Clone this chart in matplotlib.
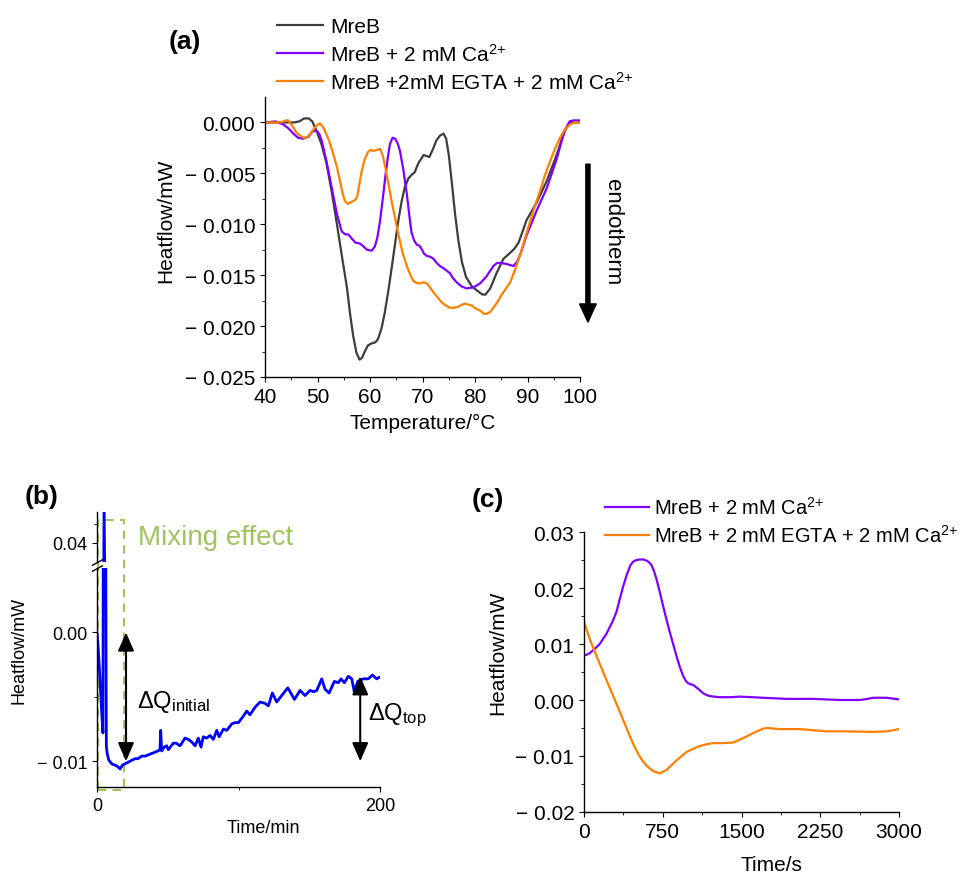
import matplotlib
matplotlib.use("Agg")
import matplotlib.pyplot as plt
from matplotlib.patches import Rectangle
from matplotlib.ticker import FixedLocator, FuncFormatter

# ---- panel (a): DSC scans, heatflow vs temperature ----
MREB_T = [40, 43, 45.5, 46.5, 47.5, 48.3, 49, 49.8, 50.8, 51.7, 52.7, 53.7, 54.6, 55.6, 56.2,
          56.8, 57.4, 58.0, 58.5, 59.0, 59.6, 60.3, 61.0, 61.5, 62.2, 62.8, 63.5, 64.2, 64.8,
          65.4, 66.0, 66.6, 67.3, 68.0, 68.5, 69.2, 70.2, 70.8, 71.3, 72.0, 72.6, 73.3, 74.0,
          74.5, 75.0, 75.6, 76.2, 76.8, 77.5, 78.3, 79.4, 80.6, 81.4, 82.0, 82.9, 84.1, 85.4,
          86.7, 87.5, 88.3, 89.2, 89.8, 91.7, 93.7, 95.6, 96.5, 97.1, 97.8, 98.4, 100]
MREB_HF = [0.0, 0.0, 0.0, 0.0001, 0.0004, 0.0004, 0.0001, -0.0008, -0.0022, -0.0040, -0.0068,
           -0.0100, -0.0130, -0.0162, -0.0188, -0.0210, -0.0226, -0.0233, -0.0231, -0.0225,
           -0.0219, -0.0217, -0.0216, -0.0213, -0.0202, -0.0187, -0.0165, -0.0140, -0.0118,
           -0.0096, -0.0078, -0.0064, -0.0055, -0.0051, -0.0049, -0.0040, -0.0032, -0.0033,
           -0.0034, -0.0026, -0.0018, -0.0013, -0.0011, -0.0016, -0.0032, -0.0060, -0.0090,
           -0.0115, -0.0137, -0.0152, -0.0161, -0.0166, -0.0169, -0.0169, -0.0163, -0.0148,
           -0.0134, -0.0128, -0.0124, -0.0118, -0.0105, -0.0096, -0.0079, -0.0057, -0.0031,
           -0.0017, -0.0008, -0.0002, 0.0, 0.0]

CA_T = [40, 42, 43.5, 44.5, 45.4, 46.3, 47.2, 48.3, 49.0, 49.8, 50.3, 50.8, 51.7, 52.7, 53.7,
        54.6, 55.3, 55.9, 56.5, 57.2, 58.1, 58.8, 59.4, 60.3, 60.9, 61.4, 61.9, 62.4, 62.9,
        63.4, 63.8, 64.3, 64.8, 65.3, 65.7, 66.3, 67.0, 67.5, 67.9, 68.4, 68.9, 69.4, 69.8,
        70.3, 70.8, 71.5, 72.1, 72.7, 73.3, 74.2, 75.2, 75.8, 76.5, 77.4, 78.4, 79.7, 81.0,
        82.2, 83.5, 84.2, 84.8, 86.0, 87.3, 88.0, 88.6, 89.8, 91.7, 93.7, 95.6, 96.5, 97.1,
        98.0, 98.7, 100]
CA_HF = [0.0, 0.0001, -0.0002, -0.0006, -0.0011, -0.0015, -0.0016, -0.0014, -0.0009, -0.0008,
         -0.0011, -0.0018, -0.0038, -0.0064, -0.0090, -0.0107, -0.0110, -0.0110, -0.0114,
         -0.0118, -0.0119, -0.0122, -0.0125, -0.0126, -0.0122, -0.0113, -0.0097, -0.0076,
         -0.0054, -0.0034, -0.0021, -0.0015, -0.0016, -0.0021, -0.0028, -0.0045, -0.0070,
         -0.0092, -0.0108, -0.0116, -0.0120, -0.0121, -0.0124, -0.0129, -0.0131, -0.0132,
         -0.0134, -0.0138, -0.0141, -0.0144, -0.0148, -0.0153, -0.0157, -0.0161, -0.0163,
         -0.0162, -0.0158, -0.0151, -0.0141, -0.0138, -0.0138, -0.0139, -0.0141, -0.0137,
         -0.0130, -0.0111, -0.0087, -0.0064, -0.0035, -0.0018, -0.0008, 0.0001, 0.0002, 0.0002]

EGTA_T = [40, 42.9, 44.0, 44.4, 45.0, 45.4, 46.0, 46.7, 47.3, 47.9, 48.5, 49.2, 49.8, 50.4,
          51.0, 51.4, 52.2, 53.0, 53.7, 54.3, 54.8, 55.2, 55.7, 56.5, 57.2, 57.6, 58.0, 58.4,
          59.0, 59.6, 60.1, 60.6, 61.3, 61.9, 62.4, 62.9, 63.5, 64.1, 64.8, 65.4, 66.2, 67.0,
          67.7, 68.3, 69.0, 69.5, 70.2, 70.8, 71.4, 72.1, 72.9, 73.7, 74.5, 75.2, 76.0, 76.8,
          77.5, 78.1, 78.8, 79.4, 80.2, 81.0, 81.7, 82.2, 82.9, 83.5, 84.3, 85.1, 85.9, 86.7,
          87.6, 88.6, 89.5, 90.5, 91.4, 92.4, 93.3, 94.3, 95.2, 96.2, 97.1, 98.1, 99.0, 100]
EGTA_HF = [0.0, 0.0, 0.0002, 0.0002, -0.0002, -0.0005, -0.0010, -0.0013, -0.0015, -0.0015,
           -0.0012, -0.0007, -0.0003, -0.0001, -0.0004, -0.0008, -0.0018, -0.0031, -0.0044,
           -0.0058, -0.0070, -0.0077, -0.0080, -0.0078, -0.0076, -0.0072, -0.0060, -0.0048,
           -0.0036, -0.0029, -0.0027, -0.0028, -0.0027, -0.0026, -0.0032, -0.0044, -0.0060,
           -0.0077, -0.0095, -0.0110, -0.0128, -0.0141, -0.0150, -0.0156, -0.0158, -0.0158,
           -0.0157, -0.0158, -0.0162, -0.0167, -0.0172, -0.0177, -0.0180, -0.0182, -0.0182,
           -0.0181, -0.0179, -0.0178, -0.0179, -0.0180, -0.0183, -0.0185, -0.0188, -0.0188,
           -0.0186, -0.0182, -0.0176, -0.0169, -0.0163, -0.0157, -0.0145, -0.0130, -0.0114,
           -0.0097, -0.0082, -0.0067, -0.0052, -0.0038, -0.0026, -0.0015, -0.0007, -0.0002,
           0.0, 0.0]

LABELS_A = ["MreB", "MreB + 2 mM Ca$^{2{+}}$", "MreB +2mM EGTA + 2 mM Ca$^{2{+}}$"]

# ---- panel (b): isothermal heatflow after Ca2+ addition ----
ITC_MIN = [0.0, 0.9, 2.1, 3.3, 4.2, 5.0, 6.6, 7.2, 8.3, 10.4, 12.7, 14.5, 16.3, 18.0, 19.8,
           21.5, 23.3, 25.0, 26.9, 29.0, 31.6, 34.0, 36.3, 38.5, 41.0, 43.0, 44.5, 45.0, 45.7,
           47.5, 49.2, 50.4, 53.9, 56.0, 58.7, 62.2, 64.5, 66.9, 69.3, 71.6, 73.5, 75.1, 77.5,
           79.9, 82.2, 84.6, 86.3, 89.3, 91.7, 95.2, 97.6, 99.9, 103.4, 105.8, 108.1, 111.7,
           115.2, 118.7, 121.1, 123.9, 127.0, 130.5, 134.8, 136.4, 139.5, 143.5, 147.0, 150.5,
           153.0, 155.3, 158.8, 161.1, 164.0, 167.7, 170.5, 172.4, 174.8, 177.6, 180.0, 181.8,
           184.2, 188.2, 191.7, 194.6, 197.6, 199.3]
ITC_HF = [0.0, -0.0013, -0.0036, -0.0062, -0.0078, 0.050, -0.0088, -0.0094, -0.0099, -0.0102,
          -0.0103, -0.0104, -0.0106, -0.0103, -0.0102, -0.0101, -0.0100, -0.0099, -0.0098,
          -0.0098, -0.0096, -0.0096, -0.0095, -0.0094, -0.0093, -0.0092, -0.0091, -0.0076,
          -0.0092, -0.0089, -0.0088, -0.0091, -0.0086, -0.0086, -0.0088, -0.0082, -0.0083,
          -0.0085, -0.0088, -0.0082, -0.0089, -0.0081, -0.0082, -0.0080, -0.0083, -0.0076,
          -0.0081, -0.0075, -0.0076, -0.0071, -0.0070, -0.0070, -0.0065, -0.0061, -0.0064,
          -0.0058, -0.0054, -0.0055, -0.0057, -0.0047, -0.0054, -0.0049, -0.0043, -0.0046,
          -0.0052, -0.0045, -0.0049, -0.0045, -0.0046, -0.0045, -0.0036, -0.0044, -0.0047,
          -0.0038, -0.0039, -0.0036, -0.0039, -0.0034, -0.0036, -0.0046, -0.0038, -0.0036,
          -0.0036, -0.0033, -0.0036, -0.0035]

# ---- panel (c): heatflow vs time ----
CA_S = [0, 50, 100, 149, 213, 276, 310, 340, 370, 404, 440, 467, 500, 531, 565, 594, 620, 642,
        665, 690, 720, 753, 785, 817, 850, 880, 912, 944, 970, 992, 1015, 1039, 1060, 1087,
        1110, 1135, 1165, 1198, 1240, 1293, 1400, 1484, 1600, 1707, 1929, 2183, 2437, 2628,
        2700, 2755, 2883, 3000]
CA_S_HF = [0.0079, 0.0083, 0.0091, 0.0100, 0.0118, 0.0142, 0.0158, 0.0180, 0.0201, 0.0222,
           0.0240, 0.0247, 0.0250, 0.0251, 0.0251, 0.0249, 0.0246, 0.0241, 0.0231, 0.0216,
           0.0194, 0.0168, 0.0144, 0.0121, 0.0099, 0.0079, 0.0059, 0.0043, 0.0034, 0.0030,
           0.0028, 0.0027, 0.0024, 0.0020, 0.0016, 0.0012, 0.0009, 0.0007, 0.0006, 0.0005,
           0.0005, 0.0006, 0.0005, 0.0004, 0.0002, 0.0002, 0.0000, 0.0000, 0.0002, 0.0004,
           0.0004, 0.0001]
EGTA_S = [0, 54, 118, 197, 276, 356, 435, 475, 515, 555, 594, 658, 721, 785, 830, 880, 930,
          976, 1040, 1103, 1170, 1230, 1325, 1420, 1470, 1516, 1560, 1611, 1660, 1707, 1750,
          1802, 1866, 2056, 2310, 2501, 2755, 2883, 3000]
EGTA_S_HF = [0.0140, 0.0109, 0.0079, 0.0043, 0.0008, -0.0028, -0.0064, -0.0081, -0.0096,
             -0.0108, -0.0117, -0.0127, -0.0131, -0.0125, -0.0117, -0.0108, -0.0100, -0.0093,
             -0.0087, -0.0082, -0.0079, -0.0077, -0.0077, -0.0076, -0.0072, -0.0068, -0.0064,
             -0.0059, -0.0055, -0.0051, -0.0050, -0.0051, -0.0052, -0.0052, -0.0056, -0.0056,
             -0.0057, -0.0056, -0.0052]

LABELS_C = ["MreB + 2 mM Ca$^{2{+}}$", "MreB + 2 mM EGTA + 2 mM Ca$^{2{+}}$"]

GREY = "#3d3d3d"
PURPLE = "#8000ff"
ORANGE = "#ff8000"
BLUE = "#0000ff"
GREEN = "#9fc45e"


def set_style():
    plt.rcParams.update({
        "font.family": "Liberation Sans",
        "mathtext.fontset": "custom",
        "mathtext.rm": "Liberation Sans",
        "mathtext.it": "Liberation Sans:italic",
        "mathtext.bf": "Liberation Sans:bold",
        "mathtext.default": "regular",
        "axes.linewidth": 1.0,
        "xtick.direction": "out",
        "ytick.direction": "out",
        "xtick.major.size": 3.5,
        "ytick.major.size": 3.5,
        "xtick.minor.size": 2.0,
        "ytick.minor.size": 2.0,
    })


def dash_fmt(decimals):
    def f(v, _pos):
        if abs(v) < 1e-12:
            return f"{0:.{decimals}f}"
        s = f"{abs(v):.{decimals}f}"
        return s if v > 0 else "\u2212 " + s
    return FuncFormatter(f)


def clean(ax):
    ax.spines["top"].set_visible(False)
    ax.spines["right"].set_visible(False)


set_style()
fig = plt.figure(figsize=(9.69, 8.79), dpi=100)

# ---------------- (a) ----------------
ax_a = fig.add_axes([0.2735, 0.5700, 0.3251, 0.3185])
clean(ax_a)
ax_a.plot(MREB_T, MREB_HF, color=GREY, lw=1.6, label=LABELS_A[0])
ax_a.plot(CA_T, CA_HF, color=PURPLE, lw=1.6, label=LABELS_A[1])
ax_a.plot(EGTA_T, EGTA_HF, color=ORANGE, lw=1.6, label=LABELS_A[2])
ax_a.set_xlim(40, 100)
ax_a.set_ylim(-0.025, 0.0025)
ax_a.xaxis.set_major_locator(FixedLocator([40, 50, 60, 70, 80, 90, 100]))
ax_a.xaxis.set_minor_locator(FixedLocator([45, 55, 65, 75, 85, 95]))
ax_a.yaxis.set_major_locator(FixedLocator([-0.025, -0.02, -0.015, -0.01, -0.005, 0.0]))
ax_a.yaxis.set_minor_locator(FixedLocator([-0.0225, -0.0175, -0.0125, -0.0075, -0.0025]))
ax_a.yaxis.set_major_formatter(dash_fmt(3))
ax_a.tick_params(labelsize=15)
ax_a.set_xlabel("Temperature/°C", fontsize=15)
ax_a.set_ylabel("Heatflow/mW", fontsize=15)
ax_a.xaxis.set_label_coords(0.502, -0.13)
ax_a.yaxis.set_label_coords(-0.285, 0.56)
ax_a.legend(loc="upper left", bbox_to_anchor=(0.2859, 0.979), bbox_transform=fig.transFigure,
            frameon=False, fontsize=15, handlelength=2.2, handletextpad=0.35,
            borderpad=0, borderaxespad=0, labelspacing=0.3)
ax_a.annotate("", xy=(101.5, -0.0196), xytext=(101.5, -0.0041), annotation_clip=False,
              arrowprops=dict(width=3, headwidth=12, headlength=13, shrink=0, color="black"))
ax_a.text(106.2, -0.0107, "endotherm", rotation=-90, fontsize=16, ha="center", va="center",
          clip_on=False)
fig.text(0.191, 0.952, "(a)", fontsize=19, fontweight="bold", ha="center", va="center")

# ---------------- (b) ----------------
ax_b = fig.add_axes([0.1001, 0.1035, 0.2921, 0.2491])
ax_bt = fig.add_axes([0.1001, 0.3595, 0.2921, 0.0569], sharex=ax_b)
for ax in (ax_b, ax_bt):
    clean(ax)
    ax.patch.set_visible(False)
    ax.plot(ITC_MIN, ITC_HF, color=BLUE, lw=2.0)
ax_bt.spines["bottom"].set_visible(False)
ax_bt.tick_params(axis="x", which="both", bottom=False, labelbottom=False)
ax_b.set_xlim(0, 200)
ax_b.set_ylim(-0.012, 0.005)
ax_bt.set_ylim(0.035, 0.048)
ax_b.xaxis.set_major_locator(FixedLocator([0, 200]))
ax_b.xaxis.set_minor_locator(FixedLocator([100]))
ax_b.yaxis.set_major_locator(FixedLocator([-0.01, 0.0]))
ax_b.yaxis.set_minor_locator(FixedLocator([-0.005]))
ax_b.yaxis.set_major_formatter(dash_fmt(2))
ax_bt.yaxis.set_major_locator(FixedLocator([0.04]))
ax_bt.yaxis.set_minor_locator(FixedLocator([0.045]))
ax_bt.yaxis.set_major_formatter(dash_fmt(2))
ax_b.tick_params(labelsize=13)
ax_bt.tick_params(labelsize=13)
ax_b.set_xlabel("Time/min", fontsize=13)
ax_b.set_ylabel("Heatflow/mW", fontsize=13)
ax_b.xaxis.set_label_coords(0.587, -0.145)
ax_b.yaxis.set_label_coords(-0.245, 0.63)
# axis break marks
brk = dict(marker=[(-1, -0.55), (1, 0.55)], markersize=8, linestyle="none", color="k",
           mec="k", mew=1, clip_on=False)
ax_bt.plot([0], [0], transform=ax_bt.transAxes, **brk)
ax_b.plot([0], [1], transform=ax_b.transAxes, **brk)
# mixing-effect box
ax_b.add_patch(Rectangle((0.7, -0.0122), 18.4, 0.0209, fill=False, ec=GREEN, lw=1.5,
                         ls=(0, (4, 3)), clip_on=False, zorder=1))
fig.text(0.1424, 0.380, "Mixing effect", fontsize=20, color=GREEN, va="baseline")
arr = dict(arrowstyle="<|-|>,head_length=0.8,head_width=0.35", mutation_scale=14,
           color="black", lw=1.5, shrinkA=0, shrinkB=0)
ax_b.annotate("", xy=(20.5, 0.0), xytext=(20.5, -0.01), arrowprops=arr, annotation_clip=False)
ax_b.annotate("", xy=(186, -0.0034), xytext=(186, -0.01), arrowprops=arr,
              annotation_clip=False)
ax_b.text(28.3, -0.0058, "ΔQ$_{initial}$", fontsize=17, va="baseline")
ax_b.text(191.5, -0.0067, "ΔQ$_{top}$", fontsize=17, va="baseline", clip_on=False)
fig.text(0.043, 0.435, "(b)", fontsize=19, fontweight="bold", ha="center", va="center")

# ---------------- (c) ----------------
ax_c = fig.add_axes([0.6027, 0.0751, 0.3251, 0.3185])
clean(ax_c)
ax_c.plot(CA_S, CA_S_HF, color=PURPLE, lw=1.6, label=LABELS_C[0])
ax_c.plot(EGTA_S, EGTA_S_HF, color=ORANGE, lw=1.6, label=LABELS_C[1])
ax_c.set_xlim(0, 3000)
ax_c.set_ylim(-0.02, 0.03)
ax_c.xaxis.set_major_locator(FixedLocator([0, 750, 1500, 2250, 3000]))
ax_c.xaxis.set_minor_locator(FixedLocator([375, 1125, 1875, 2625]))
ax_c.yaxis.set_major_locator(FixedLocator([-0.02, -0.01, 0.0, 0.01, 0.02, 0.03]))
ax_c.yaxis.set_minor_locator(FixedLocator([-0.015, -0.005, 0.005, 0.015, 0.025]))
ax_c.yaxis.set_major_formatter(dash_fmt(2))
ax_c.tick_params(labelsize=15)
ax_c.set_xlabel("Time/s", fontsize=15)
ax_c.set_ylabel("Heatflow/mW", fontsize=15)
ax_c.xaxis.set_label_coords(0.594, -0.155)
ax_c.yaxis.set_label_coords(-0.245, 0.571)
ax_c.legend(loc="upper left", bbox_to_anchor=(0.6244, 0.4346), bbox_transform=fig.transFigure,
            frameon=False, fontsize=14.5, handlelength=2.2, handletextpad=0.25,
            borderpad=0, borderaxespad=0, labelspacing=0.3)
fig.text(0.503, 0.431, "(c)", fontsize=19, fontweight="bold", ha="center", va="center")

fig.savefig("out.png", dpi=100)
